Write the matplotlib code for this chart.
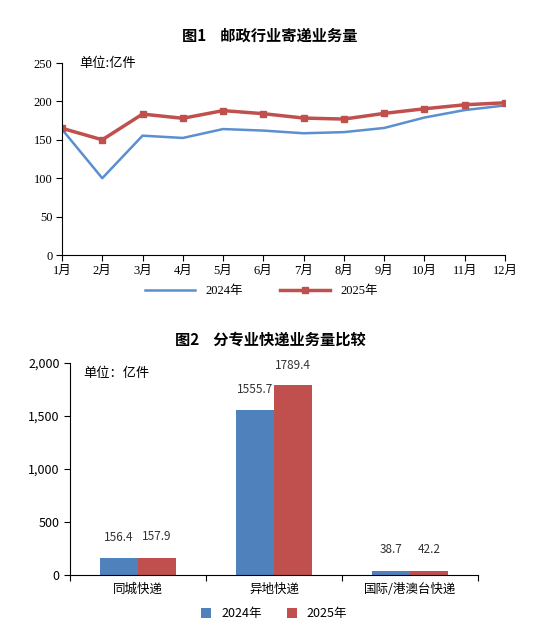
import matplotlib
matplotlib.use('Agg')
import matplotlib.pyplot as plt
import numpy as np

plt.rcParams['font.family'] = ['Noto Sans CJK SC', 'DejaVu Sans']

months = ['1月','2月','3月','4月','5月','6月','7月','8月','9月','10月','11月','12月']
v2024 = [163.6, 100.0, 155.4, 152.4, 164.0, 162.0, 158.5, 160.0, 165.4, 179.0, 188.7, 194.7]
v2025 = [165.0, 150.0, 183.5, 178.0, 188.0, 184.0, 178.3, 177.0, 184.4, 190.4, 195.6, 198.2]

cats = ['同城快递', '异地快递', '国际/港澳台快递']
b2024 = [156.4, 1555.7, 38.7]
b2025 = [157.9, 1789.4, 42.2]

W, H = 540, 628
fig = plt.figure(figsize=(W/100, H/100), dpi=100)
def ax_px(l, t, r, b):
    return fig.add_axes([l/W, 1-b/H, (r-l)/W, (b-t)/H])

serif = ['Liberation Serif', 'Noto Sans CJK SC']

# Chart 1
ax = ax_px(62, 63, 505, 255)
x = np.arange(len(months))
ax.plot(x, v2024, color='#5b8fd0', lw=1.8, label='2024年')
ax.plot(x, v2025, color='#c0504d', lw=2.5, marker='s', ms=5, label='2025年')
ax.set_xlim(0, 11); ax.set_ylim(0, 250)
ax.set_yticks([0,50,100,150,200,250])
ax.set_xticks(x); ax.set_xticklabels(months, family=serif, fontsize=9)
for t in ax.get_yticklabels():
    t.set_family(serif); t.set_fontsize(9)
for s in ['top','right']: ax.spines[s].set_visible(False)
ax.tick_params(direction='out', length=4, width=0.8, pad=3)
ax.text(0.04, 1.0, '单位:亿件', transform=ax.transAxes, fontsize=9.5, va='center')
fig.text(270/W, 1-36/H, '图1    邮政行业寄递业务量', ha='center', va='center', fontsize=11, fontweight='bold')
ax.legend(loc='upper center', bbox_to_anchor=(0.45, -0.1), ncol=2, frameon=False, fontsize=9, handlelength=4, columnspacing=3, prop={'family': serif, 'size': 9})

# Chart 2
ax2 = ax_px(70, 363, 478, 575)
xb = np.arange(len(cats))
bw = 0.28
r1 = ax2.bar(xb - bw/2, b2024, bw, color='#4f81bd', label='2024年')
r2 = ax2.bar(xb + bw/2, b2025, bw, color='#c0504d', label='2025年')
ax2.set_xlim(-0.5, 2.5); ax2.set_ylim(0, 2000)
ax2.set_yticks([0,500,1000,1500,2000])
ax2.set_yticklabels(['0','500','1,000','1,500','2,000'], fontsize=9)
ax2.set_xticks([-0.5, 0.5, 1.5, 2.5], minor=False)
ax2.set_xticklabels([])
ax2.set_xticks(xb, minor=True)
ax2.set_xticklabels(cats, minor=True, fontsize=9)
ax2.tick_params(axis='x', which='minor', length=0, pad=6)
ax2.tick_params(axis='x', which='major', length=4)
ax2.tick_params(axis='y', length=4)
for s in ['top','right']: ax2.spines[s].set_visible(False)
for rects, vals in [(r1, b2024), (r2, b2025)]:
    for rr, v in zip(rects, vals):
        ax2.text(rr.get_x()+rr.get_width()/2, v + (140 if v < 1000 else 130), f'{v:.1f}', ha='center', va='bottom', fontsize=8.5, color='#333333')
ax2.text(0.0, 1.0, '单位：亿件', transform=ax2.transAxes, fontsize=9.5, va='top', x=-0.3) if False else None
ax2.text(-0.4, 1900, '单位：亿件', fontsize=9.5, va='center')
fig.text(270/W, 1-340/H, '图2    分专业快递业务量比较', ha='center', va='center', fontsize=11, fontweight='bold')
ax2.legend(loc='upper center', bbox_to_anchor=(0.5, -0.1), ncol=2, frameon=False, fontsize=9, handlelength=0.8, handleheight=0.8, columnspacing=2)

fig.savefig('out.png', dpi=100)
